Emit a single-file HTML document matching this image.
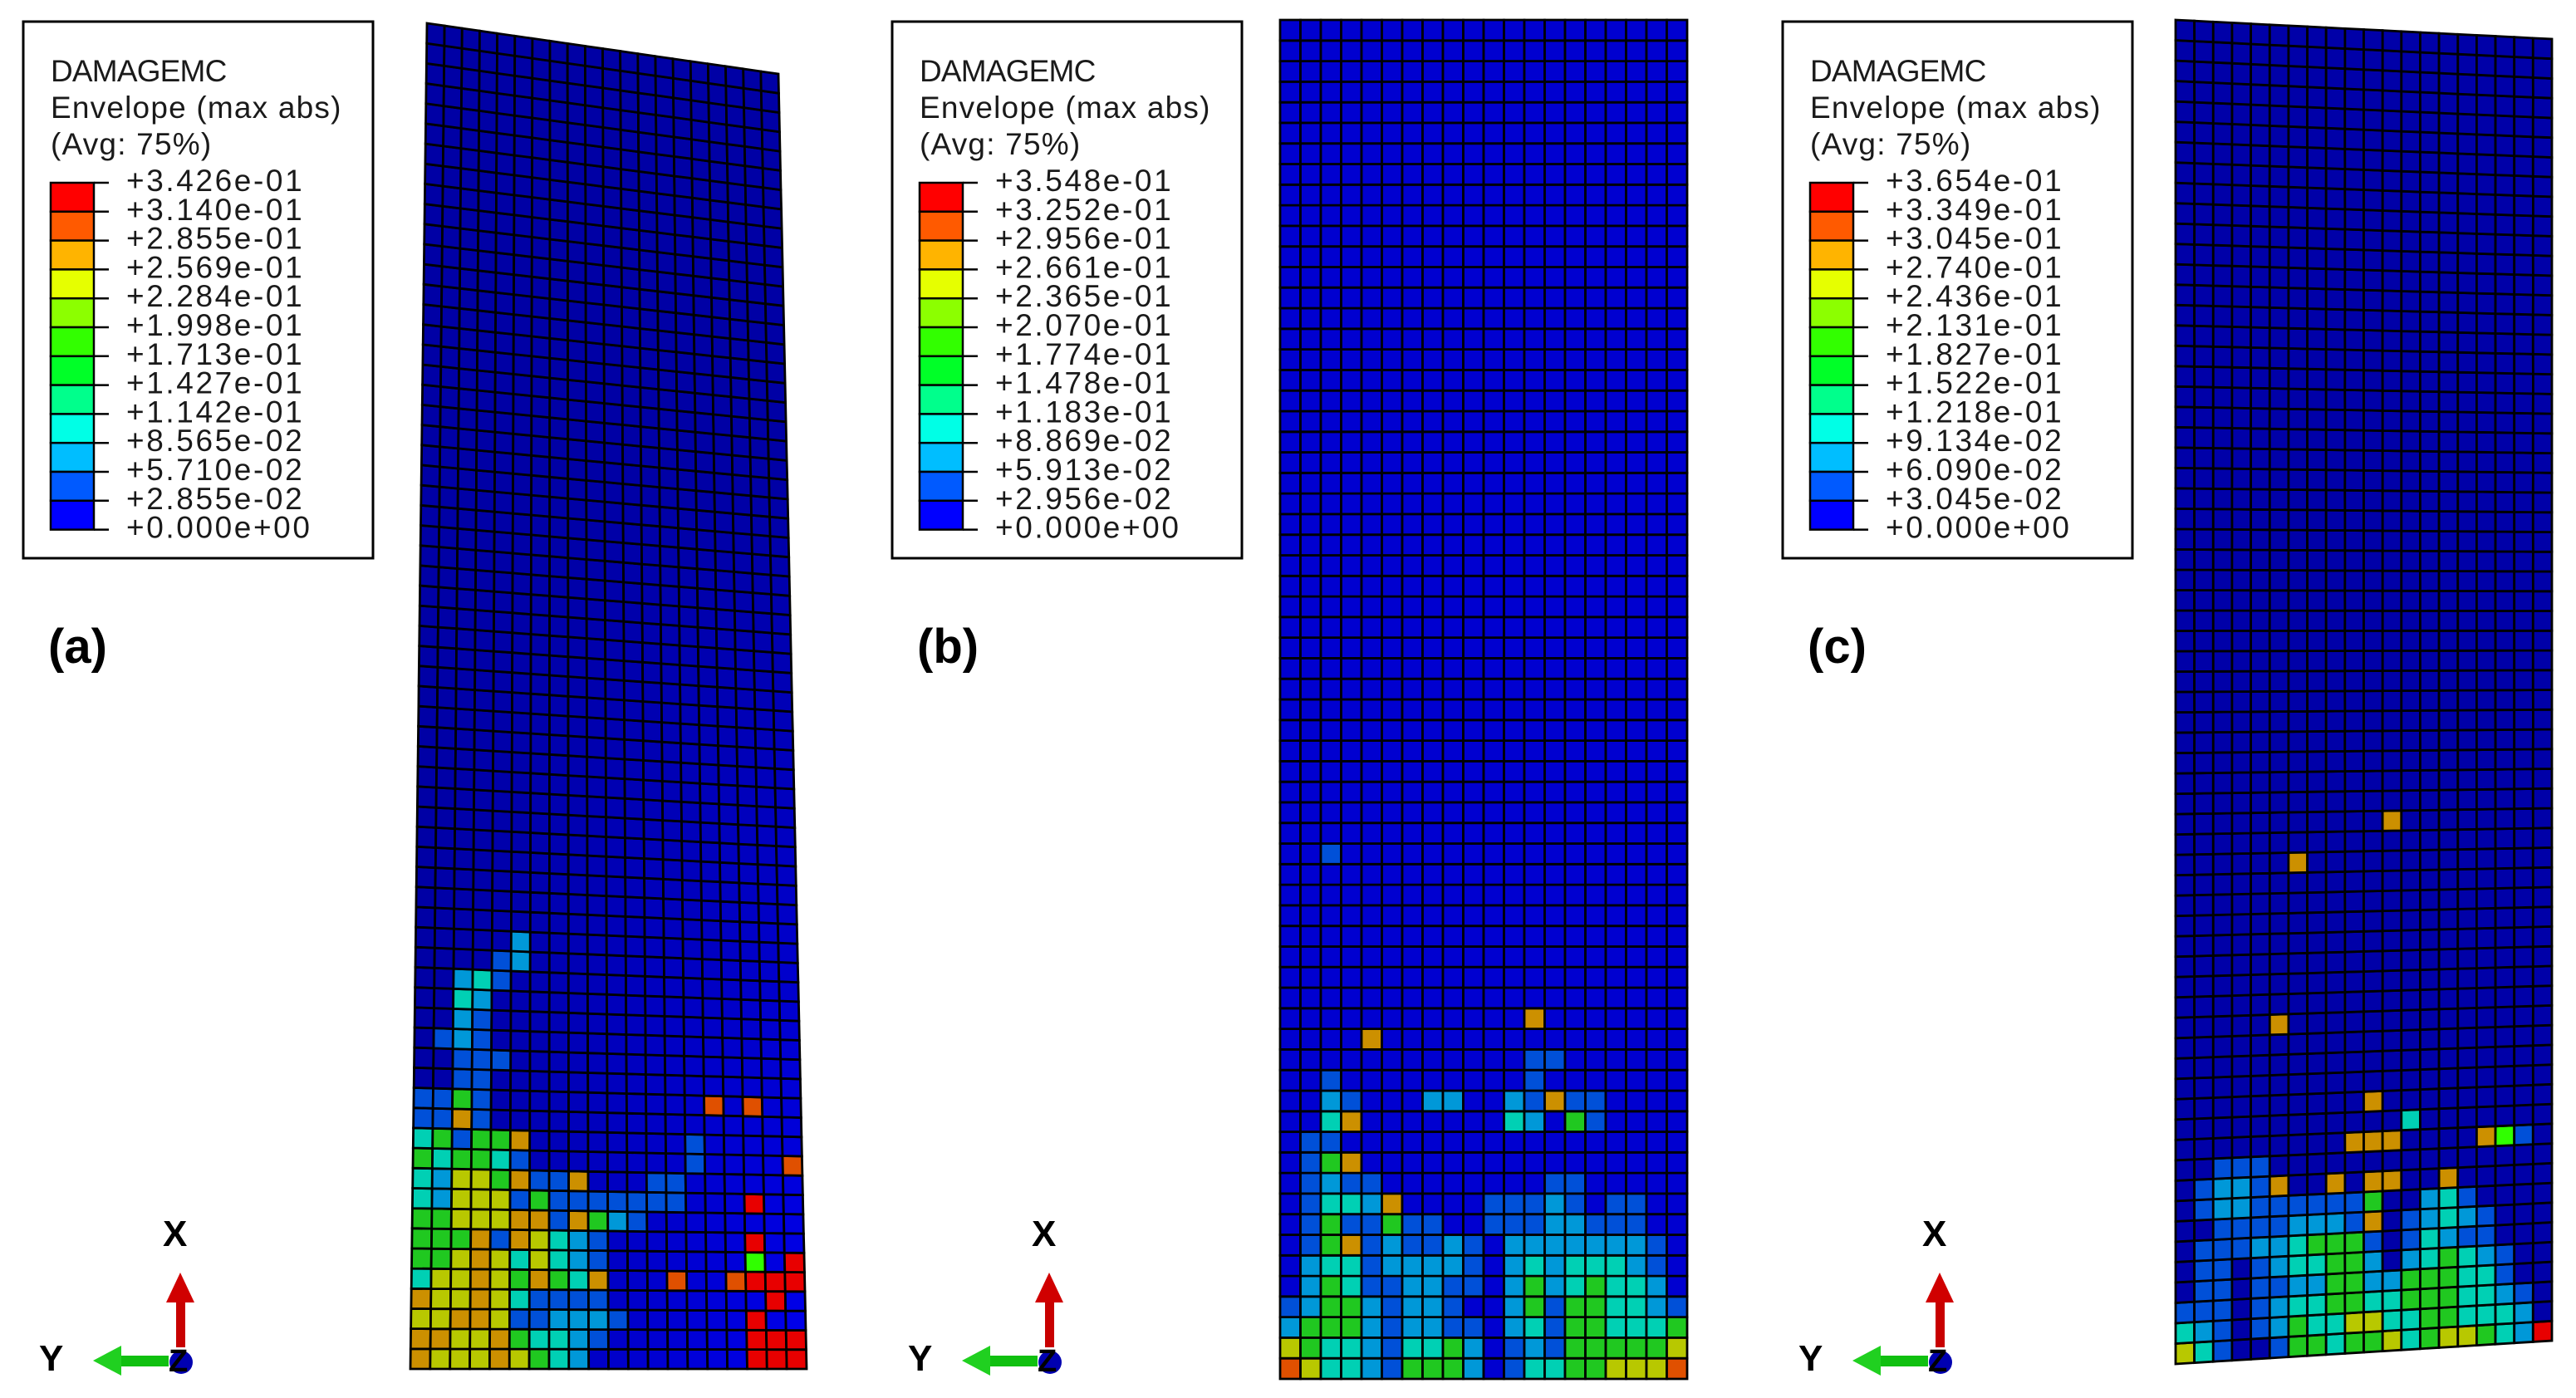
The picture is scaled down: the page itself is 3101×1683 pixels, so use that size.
<!DOCTYPE html>
<html><head><meta charset="utf-8">
<style>
html,body{margin:0;padding:0;background:#fff;}
svg{display:block;}
text{font-family:"Liberation Sans",sans-serif;}
</style></head>
<body>
<svg id="fig" xmlns="http://www.w3.org/2000/svg" width="3101" height="1683" viewBox="0 0 3101 1683">
<rect x="0" y="0" width="3101" height="1683" fill="#fff"/>
</svg>
<script>
// ---- legend data ----
const legendA = ["+3.426e-01","+3.140e-01","+2.855e-01","+2.569e-01","+2.284e-01","+1.998e-01","+1.713e-01","+1.427e-01","+1.142e-01","+8.565e-02","+5.710e-02","+2.855e-02","+0.000e+00"];
const legendB = ["+3.548e-01","+3.252e-01","+2.956e-01","+2.661e-01","+2.365e-01","+2.070e-01","+1.774e-01","+1.478e-01","+1.183e-01","+8.869e-02","+5.913e-02","+2.956e-02","+0.000e+00"];
const legendC = ["+3.654e-01","+3.349e-01","+3.045e-01","+2.740e-01","+2.436e-01","+2.131e-01","+1.827e-01","+1.522e-01","+1.218e-01","+9.134e-02","+6.090e-02","+3.045e-02","+0.000e+00"];
const legendColors = ["#ff0000","#ff5a00","#ffb400","#e6ff00","#8cff00","#32ff00","#00ff28","#00ff8c","#00ffe6","#00beff","#005aff","#0000ff"];
const panelLabels = ["(a)","(b)","(c)"];

// ---- damage cell data (rows listed from bottom, one char per element column) ----
const damageA = [
"OYYYOYGCL........RRR",
"OOYYOGCCLM.......RRR",
"YYOOYMMLLLM......R..",
"OYYOYCMMMM........R.",
"CYYOYGOGCO...E..ERRR",
"GGYOYCYCLM.......g.R",
"GGGOMOYCLM.......R..",
"GGYYYOOMOGLM........",
"CLYYYMGMMMMMMM...R..",
"CLYYGOMMO...MM......",
"GCGGCM........M....E",
"CGMGGO........M.....",
"MMOM................",
"MMGM...........E.E..",
"..MM................",
"..MMM...............",
".MLM................",
"..LM................",
"..CL................",
"..LCM...............",
"....ML..............",
".....L.............."];
const damageB = [
"EYCCLMGGGL.MCCGGYYYE",
"YGCCLMCCGL.MLMGGGGGY",
"LGGGLMLLMM.LCMGGCCCG",
"MLGGLMLLM..LGMGGCCLM",
".LGCMMLLMM.LGLCGCCL.",
".LCCMLLLLM.LCLCCCLM.",
".MGOMLMMLM.LLLLLLLM.",
".MGMMGMM..MMMLLMMM..",
".MCCLO....MMMLM.MM..",
".MLMM........MM.....",
".MGO................",
".MM.................",
"..CO.......CL.GM....",
"..LM...LL..LMOMM....",
"..M.........M.......",
"............MM......",
"....O...............",
"............O.......",
"....................","....................","....................","....................",
"....................","....................","....................",
"..M................."];
const damageC = [
"YCM..MGGCGGYCGYYGCLR",
"CLM.MLGCCYYCCGGCCCL.",
"MMM.MLCCGGCCGGGCCLM.",
".MM.MMLLGGLLGGGCCM..",
".MM.MLCCGGL.LCGCLM..",
".MMMLLCGGGM.MCLMM...",
"..MMMMLLLMO.MLCLM...",
".MLLMMMMMMG..LCM....",
".MLLMO..O.OO..O.....",
"..MMM...............",
".........OOO....OgM.",
"............C.......",
"..........O.........",
"....................","....................","....................",
".....O..............",
"....................","....................","....................","....................",
"....................","....................","....................",
"......O.............",
"....................",
"...........O........"];

const shade = {M:"#0050d8",L:"#0098d8",C:"#00d0b4",G:"#20c820",g:"#30ff00",Y:"#b8c800",O:"#cc9000",E:"#e05000",R:"#e80000"};

const svg = document.getElementById('fig');
const NS = "http://www.w3.org/2000/svg";
function mk(tag, attrs, parent){
  const e = document.createElementNS(NS, tag);
  for (const k in attrs) e.setAttribute(k, attrs[k]);
  (parent||svg).appendChild(e);
  return e;
}

// ---- legends ----
const legends = [legendA, legendB, legendC];
const legendX = [28, 1074, 2146];
legends.forEach((labels, p) => {
  const g = mk('g', {});
  
  
  const bx = legendX[p];
  mk('rect', {x:bx, y:26, width:421, height:646, fill:'#fff', stroke:'#000', 'stroke-width':3}, g);
  const tx = bx + 33;
  ["DAMAGEMC","Envelope (max abs)","(Avg: 75%)"].forEach((t, i) => {
    const te = mk('text', {x:tx, y:98 + i*44, 'font-size':37, fill:'#1a1a1a', 'letter-spacing': i===0 ? -0.8 : 1.2}, g);
    te.textContent = t;
    
    
  });
  const top = 220, step = 34.8;
  for (let i = 0; i < legendColors.length; i++) {
    const r = mk('rect', {x:tx, y:top + i*step, width:52, height:step, fill:legendColors[i], stroke:'#000', 'stroke-width':2.5}, g);
    
    
  }
  labels.forEach((t, i) => {
    const y = top + i*step;
    mk('line', {x1:tx+52, x2:tx+70, y1:y, y2:y, stroke:'#000', 'stroke-width':2.5}, g);
    const te = mk('text', {x:tx+91, y:y+10, 'font-size':37, fill:'#1a1a1a', 'letter-spacing':2.6}, g);
    te.textContent = t;
    
    
  });
  const lab = mk('text', {x:bx + 30, y:798, 'font-size':58, 'font-weight':'bold', fill:'#000'});
  lab.textContent = panelLabels[p];
  
  
});

// ---- meshes ----
const meshes = [
  {data:damageA, rows:67, cols:20, TL:[514,28], TR:[937,89], BR:[971,1648], BL:[494,1648], base:(c,r)=>{const b=Math.round(165+70*(c/19)*Math.max(0,1-r/45));return 'rgb(0,0,'+b+')';}},
  {data:damageB, rows:66, cols:20, TL:[1541,24], TR:[2031,24], BR:[2031,1660], BL:[1541,1660], base:()=> '#0000d0'},
  {data:damageC, rows:66, cols:20, TL:[2619,24], TR:[3072,47], BR:[3072,1614], BL:[2619,1642], base:()=> '#0000a8'}
];
function bil(m, u, v){
  const x = (1-u)*(1-v)*m.TL[0] + u*(1-v)*m.TR[0] + u*v*m.BR[0] + (1-u)*v*m.BL[0];
  const y = (1-u)*(1-v)*m.TL[1] + u*(1-v)*m.TR[1] + u*v*m.BR[1] + (1-u)*v*m.BL[1];
  return x.toFixed(1)+','+y.toFixed(1);
}
meshes.forEach((m, p) => {
  const g = mk('g', {});
  
  
  for (let r = 0; r < m.rows; r++) {
    const row = m.data[r] || '';
    for (let c = 0; c < m.cols; c++) {
      const ch = row[c] || '.';
      const fill = ch === '.' ? m.base(c, r) : shade[ch];
      const v0 = 1 - (r+1)/m.rows, v1 = 1 - r/m.rows;
      const u0 = c/m.cols, u1 = (c+1)/m.cols;
      const pts = [bil(m,u0,v0), bil(m,u1,v0), bil(m,u1,v1), bil(m,u0,v1)].join(' ');
      const cell = mk('polygon', {points:pts, fill:fill, stroke:'#000', 'stroke-width':2.8}, g);
      
      
    }
  }
});

// ---- triads ----
const triadDX = [0, 1046, 2118];
triadDX.forEach((dx, p) => {
  const g = mk('g', {transform:'translate('+dx+',0)'});
  
  
  mk('rect', {x:212, y:1566, width:11, height:56, fill:'#c80000'}, g);
  mk('polygon', {points:'217,1532 234,1568 200,1568', fill:'#d00000'}, g);
  mk('rect', {x:145, y:1632, width:58, height:13, fill:'#10c010'}, g);
  mk('polygon', {points:'112,1638 146,1620 146,1656', fill:'#20d020'}, g);
  mk('circle', {cx:218, cy:1640, r:14, fill:'#0000b0'}, g);
  const z = mk('text', {x:203, y:1651, 'font-size':38, 'font-weight':'bold', fill:'#000'}, g); z.textContent='Z';
  const xl = mk('text', {x:196, y:1500, 'font-size':44, 'font-weight':'bold', fill:'#000'}, g); xl.textContent='X';
  
  
  const yl = mk('text', {x:47, y:1650, 'font-size':44, 'font-weight':'bold', fill:'#000'}, g); yl.textContent='Y';
  
  
});
</script>
</body></html>
